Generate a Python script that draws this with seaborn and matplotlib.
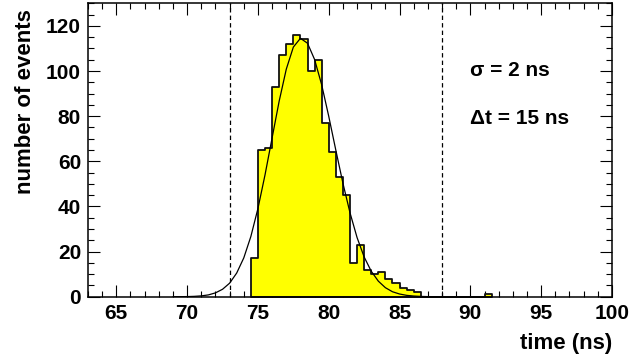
import numpy as np
import matplotlib
matplotlib.use('Agg')
import matplotlib.pyplot as plt
from matplotlib.ticker import MultipleLocator
import seaborn as sns

# histogram: 0.5 ns bins, left edges and counts
bin_width = 0.5
bin_left = [74.5, 75.0, 75.5, 76.0, 76.5, 77.0, 77.5, 78.0, 78.5, 79.0,
            79.5, 80.0, 80.5, 81.0, 81.5, 82.0, 82.5, 83.0, 83.5, 84.0,
            84.5, 85.0, 85.5, 86.0, 86.5, 87.0, 87.5, 88.0, 88.5, 89.0,
            89.5, 90.0, 90.5, 91.0]
counts = [17, 65, 66, 93, 107, 112, 116, 114, 100, 105,
          77, 64, 53, 45, 15, 23, 12, 10, 11, 8,
          6, 4, 3, 2, 0, 0, 0, 0, 0, 0,
          0, 0, 0, 1]

# fitted curve, sampled every 0.5 ns
fit_t = np.arange(69.0, 88.01, 0.5)
fit_y = [0.01, 0.02, 0.06, 0.16, 0.37, 0.8, 1.7, 3.3, 6.0, 10.5,
         17.2, 26.7, 39.1, 54.0, 70.4, 86.7, 100.8, 110.6, 114.5, 112.3,
         105.1, 93.9, 79.9, 64.9, 50.3, 37.2, 26.2, 17.6, 11.3, 6.9,
         4.0, 2.2, 1.2, 0.6, 0.3, 0.13, 0.05, 0.02, 0.01]

# time window (dashed lines) and labels
window = [73, 88]
notes = ['\u03c3 = 2 ns', '\u0394t = 15 ns']

sns.set_style('ticks')
plt.rcParams['font.family'] = ['Liberation Sans', 'DejaVu Sans']
plt.rcParams['font.weight'] = 'bold'
plt.rcParams['axes.labelweight'] = 'bold'
for key in ['text.color', 'axes.labelcolor', 'xtick.color', 'ytick.color',
            'xtick.labelcolor', 'ytick.labelcolor', 'axes.edgecolor']:
    plt.rcParams[key] = 'black'

fig = plt.figure(figsize=(6.3, 3.59), dpi=100)
ax = fig.add_axes([0.1397, 0.1735, 0.8317, 0.8173])

centers = np.array(bin_left) + bin_width / 2
edges = list(bin_left) + [bin_left[-1] + bin_width]
sns.histplot(x=centers, weights=counts, bins=edges, element='step', fill=True,
             color='#ffff00', alpha=1, edgecolor='#111111', linewidth=1.3, ax=ax)

sns.lineplot(x=fit_t, y=fit_y, color='black', linewidth=0.9, ax=ax)

for t in window:
    ax.axvline(t, color='black', linewidth=0.9, linestyle=(0, (3.5, 2.5)))

ax.text(90.0, 100.3, notes[0], fontsize=15, fontweight='bold', ha='left', va='center')
ax.text(90.0, 79.1, notes[1], fontsize=15, fontweight='bold', ha='left', va='center')

ax.set_xlim(63, 100)
ax.set_ylim(0, 130)
ax.xaxis.set_major_locator(MultipleLocator(5))
ax.xaxis.set_minor_locator(MultipleLocator(1))
ax.yaxis.set_major_locator(MultipleLocator(20))
ax.yaxis.set_minor_locator(MultipleLocator(5))
ax.tick_params(which='both', direction='in', top=True, right=True, width=0.8,
               labelsize=15, pad=5, colors='black')
ax.tick_params(which='major', length=8.6)
ax.tick_params(which='minor', length=4.3)
plt.setp(ax.get_xticklabels() + ax.get_yticklabels(), fontweight='bold')
for sp in ax.spines.values():
    sp.set_linewidth(1.1)
    sp.set_color('black')

ax.set_xlabel('time (ns)', fontsize=16, fontweight='bold', ha='right')
ax.xaxis.set_label_coords(1.0, -0.125)
ax.set_ylabel('number of events', fontsize=16, fontweight='bold')
ax.yaxis.set_label_coords(-0.099, 0.665)

fig.savefig('out.png', dpi=100)
